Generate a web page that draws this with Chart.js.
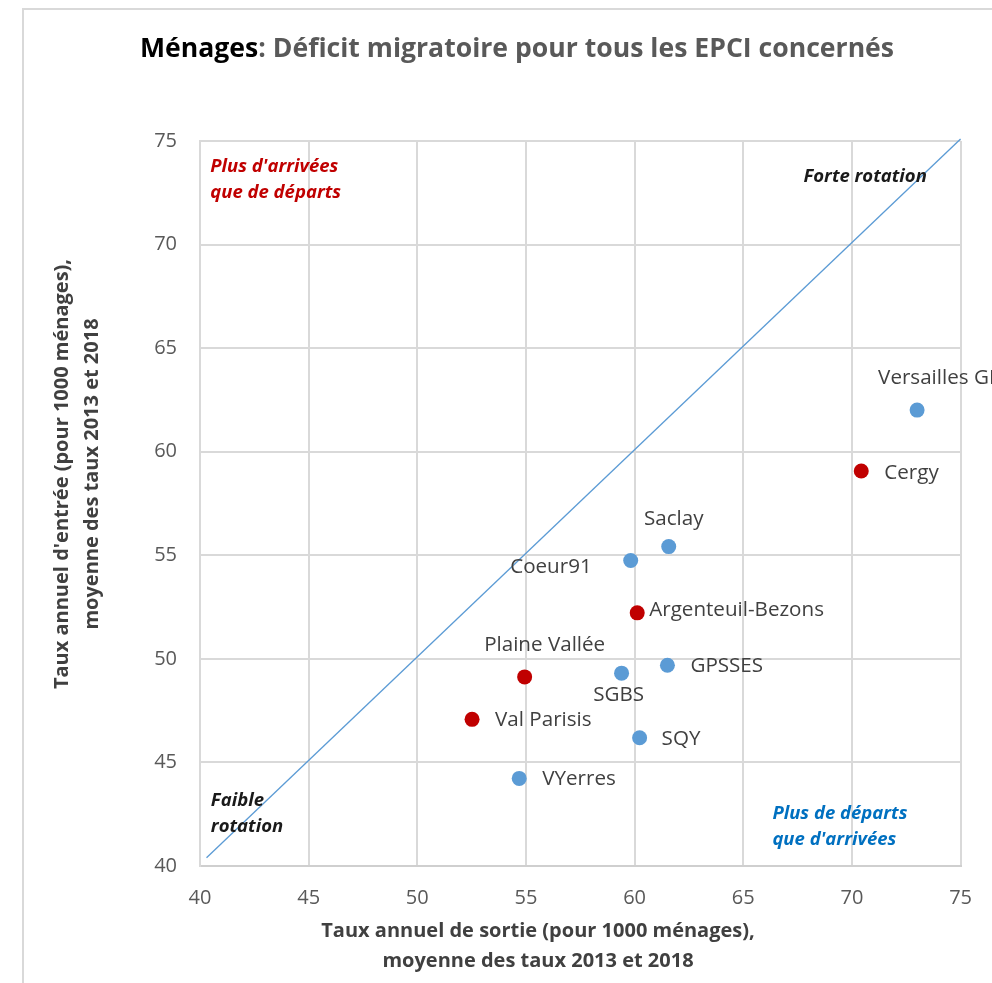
<!DOCTYPE html>
<html>
<head>
<meta charset="utf-8">
<script src="https://cdn.jsdelivr.net/npm/chart.js@4"></script>
<style>
  html, body { margin: 0; padding: 0; background: #fff; }
  #wrap { width: 992px; height: 983px; position: relative; }
</style>
</head>
<body>
<div id="wrap"><canvas id="mainChart" width="992" height="983"></canvas></div>
<script>
// Données
const epci = ['Versailles GP', 'Cergy', 'Saclay', 'Coeur91', 'Argenteuil-Bezons', 'GPSSES', 'SGBS', 'Plaine Vallée', 'Val Parisis', 'SQY', 'VYerres'];
const tauxSortie = [73.0, 70.43, 61.57, 59.82, 60.12, 61.51, 59.40, 54.94, 52.52, 60.23, 54.69];
const tauxEntree = [62.01, 59.07, 55.42, 54.75, 52.22, 49.69, 49.31, 49.13, 47.08, 46.19, 44.23];
const valDOise = [false, true, false, false, true, false, false, true, true, false, false];

// Diagonale (entrées = sorties)
const diagX = [40.3, 75];
const diagY = [40.4, 75.1];

const axeMin = 40, axeMax = 75, pas = 5;

// Placement des étiquettes (décalage en px, alignement)
const placement = {
    'Versailles GP': [-39, -32, 'left'],
    'Cergy': [23, 2, 'left'],
    'Saclay': [5, -27, 'center'],
    'Coeur91': [-39, 7, 'right'],
    'Argenteuil-Bezons': [12, -3, 'left'],
    'GPSSES': [23, 1, 'left'],
    'SGBS': [-3, 22, 'center'],
    'Plaine Vallée': [20, -32, 'center'],
    'Val Parisis': [23, 1, 'left'],
    'SQY': [22, 1, 'left'],
    'VYerres': [23, 1, 'left']
};

// Annotations des quadrants (coordonnées en valeurs d'axe)
const annotations = [
    { lines: ["Plus d'arrivées", 'que de départs'], x: 40.47, y: 73.74, color: '#C00000' },
    { lines: ['Forte rotation'], x: 67.77, y: 73.26, color: '#1a1a1a' },
    { lines: ['Faible', 'rotation'], x: 40.5, y: 43.17, color: '#1a1a1a' },
    { lines: ['Plus de départs', "que d'arrivées"], x: 66.34, y: 42.5, color: '#0070C0' }
];

const FONT = '"Open Sans", Lato, sans-serif';

function points(filtre) {
    const pts = [];
    epci.forEach((nom, i) => {
        if (valDOise[i] === filtre) pts.push({ x: tauxSortie[i], y: tauxEntree[i], nom: nom });
    });
    return pts;
}

const textesPlugin = {
    id: 'textes',
    beforeDraw(chart) {
        const ctx = chart.ctx;
        ctx.save();
        ctx.fillStyle = '#fff';
        ctx.fillRect(0, 0, chart.width, chart.height);
        // cadre extérieur
        ctx.strokeStyle = '#d9d9d9';
        ctx.lineWidth = 2;
        ctx.beginPath();
        ctx.moveTo(23, chart.height);
        ctx.lineTo(23, 9);
        ctx.lineTo(chart.width, 9);
        ctx.stroke();
        ctx.restore();
    },
    afterDraw(chart) {
        const ctx = chart.ctx;
        const xs = chart.scales.x, ys = chart.scales.y;
        ctx.save();

        // titre
        ctx.font = 'bold 26.6px ' + FONT;
        ctx.textBaseline = 'middle';
        const t1 = 'Ménages', t2 = ': Déficit migratoire pour tous les EPCI concernés';
        const w1 = ctx.measureText(t1).width, w2 = ctx.measureText(t2).width;
        let x0 = 517 - (w1 + w2) / 2;
        ctx.textAlign = 'left';
        ctx.fillStyle = '#000';
        ctx.fillText(t1, x0, 49);
        ctx.fillStyle = '#595959';
        ctx.fillText(t2, x0 + w1, 49);

        // titres d'axes
        ctx.font = 'bold 20px ' + FONT;
        ctx.fillStyle = '#404040';
        ctx.textAlign = 'center';
        ctx.fillText('Taux annuel de sortie (pour 1000 ménages),', 538, 931);
        ctx.fillText('moyenne des taux 2013 et 2018', 538, 961);
        ctx.save();
        ctx.translate(62, 474);
        ctx.rotate(-Math.PI / 2);
        ctx.fillText("Taux annuel d'entrée (pour 1000 ménages),", 0, 0);
        ctx.fillText('moyenne des taux 2013 et 2018', 0, 30);
        ctx.restore();

        // annotations
        ctx.font = 'italic bold 18.5px ' + FONT;
        ctx.textAlign = 'left';
        annotations.forEach(a => {
            ctx.fillStyle = a.color;
            const px = xs.getPixelForValue(a.x), py = ys.getPixelForValue(a.y);
            a.lines.forEach((l, k) => ctx.fillText(l, px, py + k * 26));
        });

        // étiquettes des points
        ctx.font = '20.6px ' + FONT;
        ctx.fillStyle = '#404040';
        chart.data.datasets.forEach((ds, di) => {
            if (!ds.etiquettes) return;
            const meta = chart.getDatasetMeta(di);
            meta.data.forEach((el, j) => {
                const nom = ds.data[j].nom;
                const p = placement[nom] || [10, 0, 'left'];
                ctx.textAlign = p[2];
                ctx.fillText(nom, el.x + p[0], el.y + p[1]);
            });
        });
        ctx.restore();
    }
};

new Chart(document.getElementById('mainChart').getContext('2d'), {
    type: 'scatter',
    data: {
        datasets: [
            {
                type: 'line',
                data: diagX.map((x, i) => ({ x: x, y: diagY[i] })),
                borderColor: '#5B9BD5',
                borderWidth: 1.3,
                pointRadius: 0,
                fill: false,
                clip: false
            },
            {
                data: points(false),
                backgroundColor: '#5B9BD5',
                borderWidth: 0,
                pointRadius: 7.5,
                etiquettes: true
            },
            {
                data: points(true),
                backgroundColor: '#C00000',
                borderWidth: 0,
                pointRadius: 7.5,
                etiquettes: true
            }
        ]
    },
    options: {
        responsive: false,
        animation: false,
        layout: { padding: { top: 141, right: 30, left: 0, bottom: 0 } },
        plugins: { legend: { display: false }, tooltip: { enabled: false } },
        scales: {
            x: {
                type: 'linear',
                min: axeMin, max: axeMax,
                ticks: { stepSize: pas, color: '#595959', font: { family: FONT, size: 20 }, padding: 20 },
                grid: { color: '#d9d9d9', lineWidth: 2, drawTicks: false },
                border: { color: '#cfcfcf', width: 2 },
                afterFit: s => { s.height = 117; }
            },
            y: {
                type: 'linear',
                min: axeMin, max: axeMax,
                ticks: { stepSize: pas, color: '#595959', font: { family: FONT, size: 20 }, padding: 23 },
                grid: { color: '#d9d9d9', lineWidth: 2, drawTicks: false },
                border: { color: '#d9d9d9', width: 2 },
                afterFit: s => { s.width = 200; }
            }
        }
    },
    plugins: [textesPlugin]
});
</script>
</body>
</html>
